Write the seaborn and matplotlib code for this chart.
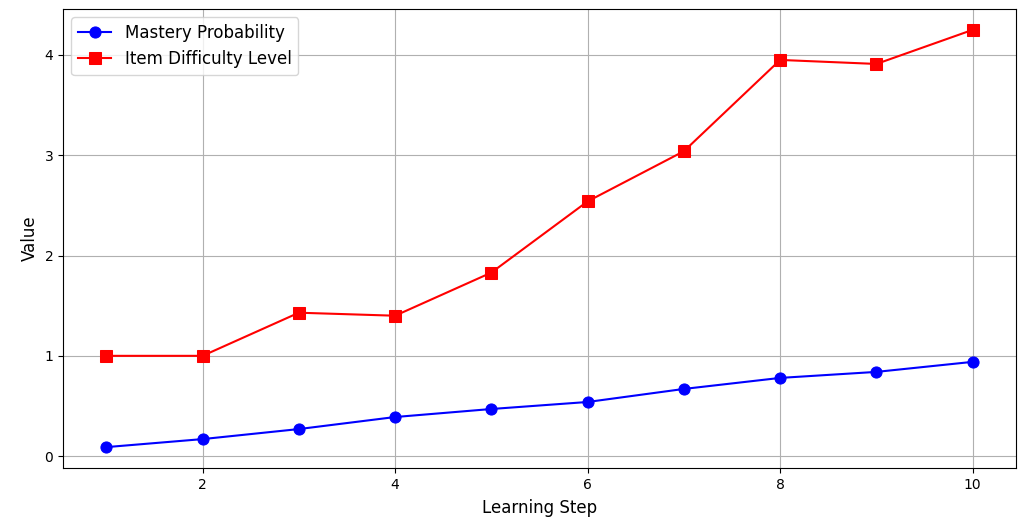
import matplotlib
matplotlib.use("Agg")
import matplotlib.pyplot as plt
import seaborn as sns
import pandas as pd

steps = [1, 2, 3, 4, 5, 6, 7, 8, 9, 10]
mastery = [0.09, 0.17, 0.27, 0.39, 0.47, 0.54, 0.67, 0.78, 0.84, 0.94]
difficulty = [1.0, 1.0, 1.43, 1.40, 1.83, 2.54, 3.04, 3.95, 3.91, 4.25]

df = pd.DataFrame({"step": steps, "mastery": mastery, "difficulty": difficulty})

fig, ax = plt.subplots(figsize=(10.21, 5.19), dpi=100)
sns.lineplot(data=df, x="step", y="mastery", ax=ax, color="blue", marker="o",
             markersize=8, markeredgecolor="blue", linewidth=1.5,
             label="Mastery Probability")
sns.lineplot(data=df, x="step", y="difficulty", ax=ax, color="red", marker="s",
             markersize=8, markeredgecolor="red", linewidth=1.5,
             label="Item Difficulty Level")
ax.set_xlabel("Learning Step", fontsize=12, labelpad=5)
ax.set_ylabel("Value", fontsize=12)
ax.tick_params(labelsize=10)
ax.grid(True)
ax.legend(loc="upper left", fontsize=12)
fig.subplots_adjust(left=0.0617, right=0.9951, top=0.9827, bottom=0.0983)
fig.savefig("out.png", dpi=100)
